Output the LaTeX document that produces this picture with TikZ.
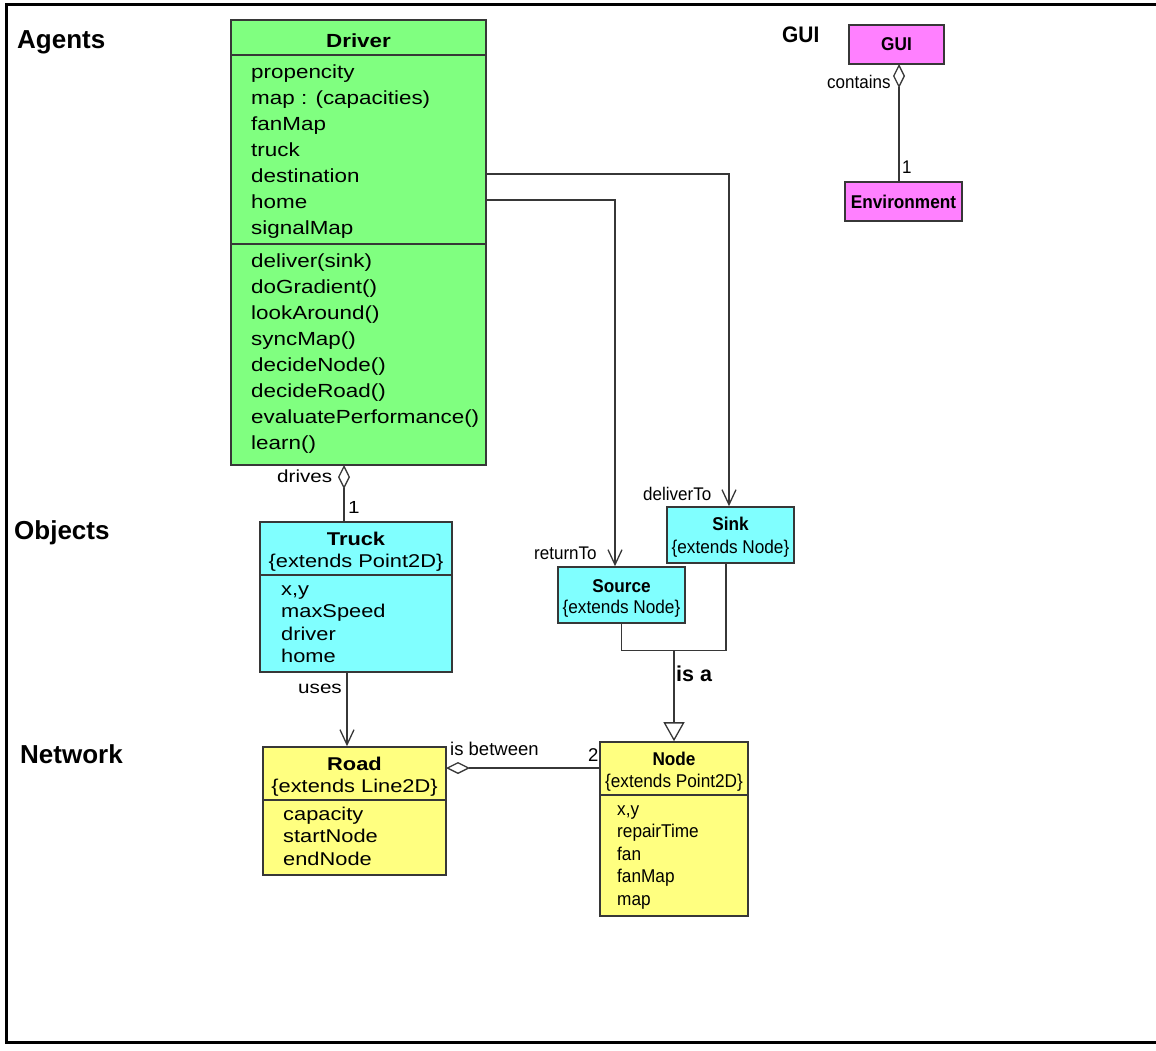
\documentclass[tikz,border=0pt]{standalone}
\usepackage{fontspec}
\setmainfont{Liberation Sans}
\newfontfamily\wideface[FakeStretch=1.18]{Liberation Sans}
\newfontfamily\narrowface[FakeStretch=0.93]{Liberation Sans}
\usepackage{xcolor}
\usetikzlibrary{arrows.meta,positioning}
\pgfdeclarelayer{edgelayer}
\pgfdeclarelayer{nodelayer}
\pgfsetlayers{edgelayer,nodelayer,main}
\definecolor{agentgreen}{RGB}{128,255,128}
\definecolor{objectcyan}{RGB}{128,255,255}
\definecolor{netyellow}{RGB}{255,255,128}
\definecolor{guipink}{RGB}{255,128,255}
\definecolor{edgegray}{RGB}{55,55,55}
\tikzstyle{none}=[inner sep=0pt]
\tikzstyle{classbox}=[rectangle, draw=edgegray, line width=1.6pt, inner sep=0pt]
\tikzstyle{divider}=[-, draw=edgegray, line width=1.6pt]
\tikzstyle{bigtitle}=[inner sep=0pt, anchor=base, font=\wideface\bfseries\fontsize{19}{22}\selectfont]
\tikzstyle{bigattr}=[inner sep=0pt, anchor=base west, font=\wideface\fontsize{19}{22}\selectfont]
\tikzstyle{midtitle}=[inner sep=0pt, anchor=base, font=\wideface\bfseries\fontsize{18.5}{22}\selectfont]
\tikzstyle{midattr}=[inner sep=0pt, anchor=base west, font=\wideface\fontsize{18.5}{22}\selectfont]
\tikzstyle{smalltitle}=[inner sep=0pt, anchor=base, font=\narrowface\bfseries\fontsize{18.5}{21}\selectfont]
\tikzstyle{smallattr}=[inner sep=0pt, anchor=base west, font=\narrowface\fontsize{18.5}{21}\selectfont]
\tikzstyle{section}=[inner sep=0pt, anchor=base west, font=\bfseries\fontsize{26}{30}\selectfont]
\tikzstyle{roleleft}=[inner sep=0pt, anchor=base west, font=\wideface\fontsize{17.5}{20}\selectfont]
\tikzstyle{roleright}=[inner sep=0pt, anchor=base west, font=\narrowface\fontsize{18.3}{20}\selectfont]
\tikzstyle{assoc}=[-{Straight Barb[length=15pt,width=14pt]}, draw=edgegray, line width=1.3pt]
\tikzstyle{aggr}=[{Diamond[open,length=24pt,width=12pt]}-, draw=edgegray, line width=1.3pt]
\tikzstyle{generalize}=[-{Triangle[open,length=19pt,width=21pt]}, draw=edgegray, line width=1.3pt]
\tikzstyle{simple}=[-, draw=edgegray, line width=1.3pt]

\begin{document}
\begin{tikzpicture}[x=1pt,y=-1pt]
	\useasboundingbox (0,0) rectangle (1156,1050);
	\begin{pgfonlayer}{nodelayer}
		% frame
		\draw [line width=3pt] (1156,4) -- (6,4) -- (6,1042) -- (1156,1042);

		\node [style=section] (lblAgents) at (17,48) {Agents};
		\node [style=section] (lblObjects) at (14,539) {Objects};
		\node [style=section] (lblNetwork) at (20,763) {Network};
		\node [style=section, font=\narrowface\bfseries\fontsize{22.5}{24}\selectfont] (lblGui) at (782,42) {GUI};

		% Driver
		\node [style=classbox, fill=agentgreen, minimum width=255pt, minimum height=445pt] (drv) at (358.5,242.5) {};
		\node [style=bigtitle] (drvName) at (358.5,47) {Driver};
		\node [style=bigattr] (dProp) at (251,78) {propencity};
		\node [style=bigattr] (dMap) at (251,104) {map : (capacities)};
		\node [style=bigattr] (dFan) at (251,130) {fanMap};
		\node [style=bigattr] (dTruck) at (251,156) {truck};
		\node [style=bigattr] (dDest) at (251,182) {destination};
		\node [style=bigattr] (dHome) at (251,208) {home};
		\node [style=bigattr] (dSignal) at (251,234) {signalMap};
		\node [style=bigattr] (dDeliver) at (251,267) {deliver(sink)};
		\node [style=bigattr] (dGrad) at (251,293) {doGradient()};
		\node [style=bigattr] (dLook) at (251,319) {lookAround()};
		\node [style=bigattr] (dSync) at (251,345) {syncMap()};
		\node [style=bigattr] (dNode) at (251,371) {decideNode()};
		\node [style=bigattr] (dRoad) at (251,397) {decideRoad()};
		\node [style=bigattr] (dEval) at (251,423) {evaluatePerformance()};
		\node [style=bigattr] (dLearn) at (251,449) {learn()};
		\coordinate (drvDest) at (486,174);
		\coordinate (drvHome) at (486,200);
		\coordinate (drvDrives) at (344,465);

		% Truck
		\node [style=classbox, fill=objectcyan, minimum width=192pt, minimum height=150pt] (trk) at (356,597) {};
		\node [style=midtitle] (trkName) at (356,545) {Truck};
		\node [style=midattr, anchor=base] (trkExt) at (356,567) {\{extends Point2D\}};
		\node [style=midattr] (tXY) at (281,595) {x,y};
		\node [style=midattr] (tSpeed) at (281,617) {maxSpeed};
		\node [style=midattr] (tDriver) at (281,640) {driver};
		\node [style=midattr] (tHome) at (281,662) {home};
		\coordinate (trkUses) at (347,672);

		% Road
		\node [style=classbox, fill=netyellow, minimum width=183pt, minimum height=128pt] (road) at (354.5,811) {};
		\node [style=midtitle] (roadName) at (354.5,770) {Road};
		\node [style=midattr, anchor=base] (roadExt) at (354.5,792) {\{extends Line2D\}};
		\node [style=midattr] (rCap) at (283,820) {capacity};
		\node [style=midattr] (rStart) at (283,842) {startNode};
		\node [style=midattr] (rEnd) at (283,865) {endNode};
		\coordinate (roadBtw) at (446,768);

		% Node
		\node [style=classbox, fill=netyellow, minimum width=148pt, minimum height=174pt] (nod) at (674,829) {};
		\node [style=smalltitle] (nodName) at (674,765) {Node};
		\node [style=smallattr, anchor=base] (nodExt) at (674,787) {\{extends Point2D\}};
		\node [style=smallattr] (nXY) at (617,815) {x,y};
		\node [style=smallattr] (nRepair) at (617,837) {repairTime};
		\node [style=smallattr] (nFan) at (617,860) {fan};
		\node [style=smallattr] (nFanMap) at (617,882) {fanMap};
		\node [style=smallattr] (nMap) at (617,905) {map};

		% Sink and Source
		\node [style=classbox, fill=objectcyan, minimum width=127pt, minimum height=56pt] (snk) at (730.5,535) {};
		\node [style=smalltitle] (snkName) at (730.5,530) {Sink};
		\node [style=smallattr, anchor=base] (snkExt) at (730.5,553) {\{extends Node\}};
		\node [style=classbox, fill=objectcyan, minimum width=127pt, minimum height=56pt] (src) at (621.5,595) {};
		\node [style=smalltitle] (srcName) at (621.5,592) {Source};
		\node [style=smallattr, anchor=base] (srcExt) at (621.5,613) {\{extends Node\}};
		\coordinate (isaJoin) at (674,650);

		% GUI
		\node [style=classbox, fill=guipink, minimum width=95pt, minimum height=39pt, font=\narrowface\bfseries\fontsize{18.5}{20}\selectfont] (gui) at (896.5,44.5) {GUI};
		\node [style=classbox, fill=guipink, minimum width=117pt, minimum height=39pt, font=\narrowface\bfseries\fontsize{18.5}{20}\selectfont] (env) at (903.5,201.5) {Environment};
		\coordinate (guiEnv) at (899,64);

		% labels
		\node [style=roleleft] (lDrives) at (277,482) {drives};
		\node [style=roleleft] (lOne) at (348,513) {1};
		\node [style=roleleft] (lUses) at (298,693) {uses};
		\node [style=roleleft, font=\fontsize{18.5}{20}\selectfont] (lBetween) at (450,755) {is between};
		\node [style=roleleft, font=\fontsize{18.5}{20}\selectfont] (lTwo) at (588,761) {2};
		\node [style=roleright] (lReturn) at (534,559) {returnTo};
		\node [style=roleright] (lDeliver) at (643,500) {deliverTo};
		\node [style=roleright] (lContains) at (827,88) {contains};
		\node [style=roleright] (lOneGui) at (902,173) {1};
		\node [style=section, font=\bfseries\fontsize{21.5}{24}\selectfont] (lIsa) at (676,681) {is a};
	\end{pgfonlayer}
	\begin{pgfonlayer}{edgelayer}
		\draw [style=assoc] (drvDest) -| ([xshift=-1.5pt]snk.north);
		\draw [style=assoc] (drvHome) -| ([xshift=-6.5pt]src.north);
		\draw [style=aggr] (drvDrives) -- (drvDrives |- trk.north);
		\draw [style=assoc] (trkUses) -- (trkUses |- road.north);
		\draw [style=aggr] (roadBtw) -- (roadBtw -| nod.west);
		\draw [style=simple] (src.south) -- ++(0,27) -| ([xshift=-4.5pt]snk.south);
		\draw [style=generalize] (isaJoin) -- (nod.north);
		\draw [style=aggr] (guiEnv) -- (guiEnv |- env.north);
	\end{pgfonlayer}
	% compartment lines
	\draw [style=divider] (drv.west |- 0,55) -- (drv.east |- 0,55);
	\draw [style=divider] (drv.west |- 0,244) -- (drv.east |- 0,244);
	\draw [style=divider] (trk.west |- 0,575) -- (trk.east |- 0,575);
	\draw [style=divider] (road.west |- 0,800) -- (road.east |- 0,800);
	\draw [style=divider] (nod.west |- 0,795) -- (nod.east |- 0,795);
\end{tikzpicture}
\end{document}
